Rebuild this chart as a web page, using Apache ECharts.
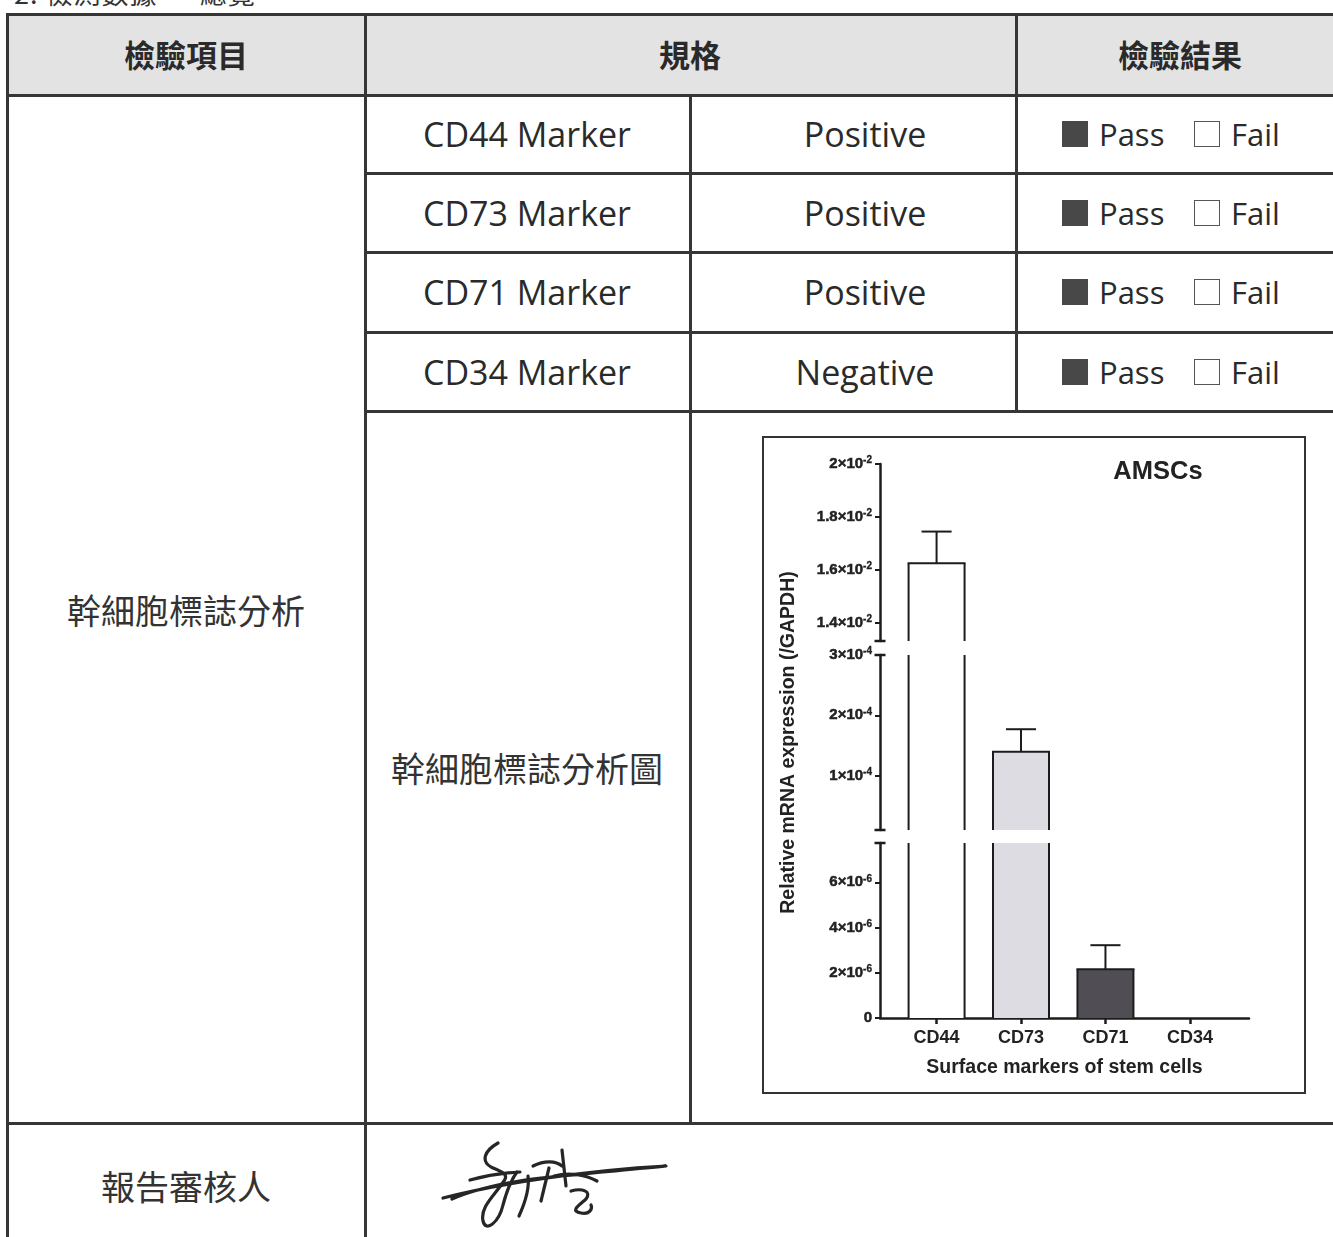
<!DOCTYPE html>
<html>
<head>
<meta charset="utf-8">
<script src="https://cdn.jsdelivr.net/npm/echarts@6/dist/echarts.min.js"></script>
<style>
html,body{margin:0;padding:0;background:#fff;}
body{width:1333px;height:1237px;position:relative;overflow:hidden;color:#2a2a2a;font-family:'Open Sans','Noto Sans CJK TC',sans-serif;}
.h{position:absolute;height:3px;background:#363636;}
.v{position:absolute;width:3px;background:#363636;}
.t{position:absolute;white-space:nowrap;transform:translate(-50%,-50%);line-height:1;}
.l{position:absolute;white-space:nowrap;transform:translate(0,-50%);line-height:1;}
.cjk{font-family:'Noto Sans CJK TC';font-size:34px;font-weight:400;color:#333;}
.hd{font-family:'Noto Sans CJK TC';font-size:31px;font-weight:700;color:#2a2a2a;}
.lat{font-family:'Open Sans';font-size:34px;color:#2a2a2a;}
.pf{font-family:'Open Sans';font-size:31px;color:#2a2a2a;}
.sq{position:absolute;width:26px;height:26px;box-sizing:border-box;}
#hdrbg{position:absolute;left:6px;top:13px;width:1327px;height:82px;background:#e3e3e3;}
#chart{position:absolute;left:762px;top:436px;width:544px;height:658px;}
#frame{position:absolute;left:762px;top:436px;width:544px;height:658px;border:2px solid #333;box-sizing:border-box;pointer-events:none;}
#sig{position:absolute;left:0;top:0;width:1333px;height:1237px;pointer-events:none;}
</style>
</head>
<body>
<div id="hdrbg"></div>
<div class="l cjk" style="left:14px;top:-8px;font-size:27px;letter-spacing:1px;">2. 檢測數據 一 總覽</div>
<div id="table"></div>
<div id="chart"></div>
<div id="frame"></div>
<svg id="sig" viewBox="0 0 1333 1237">
  <g fill="none" stroke="#262626" stroke-width="3.2" stroke-linecap="round" stroke-linejoin="round">
    <path d="M443 1198 C500 1183 590 1170 666 1166 C630 1170 570 1174 525 1180 C495 1185 470 1191 452 1199"/>
    <path d="M498 1143 C484 1151 481 1161 491 1167 C502 1172 509 1174 504 1181 C494 1196 480 1207 483 1221 C486 1233 499 1222 503 1205 C507 1190 511 1180 517 1172"/>
    <path d="M470 1180 C485 1176 500 1173 520 1172"/>
    <path d="M528 1176 C530 1190 524 1205 519 1216"/>
    <path d="M533 1166 C545 1160 556 1161 562 1166"/>
    <path d="M549 1168 L541 1201"/>
    <path d="M562 1150 L566 1186"/>
    <path d="M554 1176 C570 1172 586 1175 597 1181"/>
    <path d="M571 1191 C582 1188 592 1191 586 1199 C578 1206 570 1211 581 1213 C589 1215 593 1209 591 1205"/>
  </g>
</svg>
<script>
// ---------- table content ----------
const markerNames = ['CD44 Marker', 'CD73 Marker', 'CD71 Marker', 'CD34 Marker'];
const markerSpecs = ['Positive', 'Positive', 'Positive', 'Negative'];
const headerTexts = ['檢驗項目', '規格', '檢驗結果'];

// ---------- chart data ----------
const categories = ['CD44', 'CD73', 'CD71', 'CD34'];
const meanValues = [1.625e-2, 1.397e-4, 2.16e-6, 0];
const errorValues = [0.12e-2, 0.373e-4, 1.06e-6, 0];
const barColors = ['#ffffff', '#dcdce2', '#504e54', '#ffffff'];
// axis segments: bottom, middle, top
const segmentRanges = [[0, 7.74e-6], [1e-5, 3e-4], [1.332e-2, 2e-2]];
const yTickValues = [[0, 2e-6, 4e-6, 6e-6], [1e-4, 2e-4, 3e-4], [1.4e-2, 1.6e-2, 1.8e-2, 2e-2]];
const xTickValues = [0, 1, 2, 3];
const xRange = [-0.67, 3.70];

// ---------- build table ----------
(function () {
  const T = document.getElementById('table');
  function add(cls, style, text) {
    const d = document.createElement('div');
    d.className = cls; d.setAttribute('style', style);
    if (text !== undefined) d.textContent = text;
    T.appendChild(d);
  }
  add('h', 'left:6px;top:13px;width:1327px;');
  add('h', 'left:6px;top:94px;width:1327px;');
  [172, 251, 331, 410].forEach(y => add('h', 'left:364px;top:' + y + 'px;width:969px;'));
  add('h', 'left:6px;top:1122px;width:1327px;');
  add('v', 'left:6px;top:13px;height:1224px;');
  add('v', 'left:364px;top:13px;height:1224px;');
  add('v', 'left:689px;top:94px;height:1031px;');
  add('v', 'left:1015px;top:13px;height:400px;');
  add('t hd', 'left:186px;top:53px;', headerTexts[0]);
  add('t hd', 'left:690px;top:53px;', headerTexts[1]);
  add('t hd', 'left:1180px;top:53px;', headerTexts[2]);
  const rowCenters = [134, 213, 292, 372];
  markerNames.forEach((m, i) => {
    const c = rowCenters[i];
    add('t lat', 'left:527px;top:' + c + 'px;', m);
    add('t lat', 'left:865px;top:' + c + 'px;', markerSpecs[i]);
    add('sq', 'left:1062px;top:' + (c - 13) + 'px;background:#484848;');
    add('l pf', 'left:1099px;top:' + c + 'px;', 'Pass');
    add('sq', 'left:1194px;top:' + (c - 13) + 'px;border:1.5px solid #555;background:#fff;');
    add('l pf', 'left:1231px;top:' + c + 'px;', 'Fail');
  });
  add('t cjk', 'left:186px;top:610px;', '幹細胞標誌分析');
  add('t cjk', 'left:527px;top:768px;', '幹細胞標誌分析圖');
  add('t cjk', 'left:186px;top:1186px;', '報告審核人');
})();

// ---------- chart ----------
const AX = '#1c1c1c';
const FONT = 'Liberation Sans, Arial, sans-serif';
const barWidthUnits = 0.663;
const capHalfUnits = 0.178;

function sciLabel(v) {
  if (v === 0) return '{m|0}';
  const exp = Math.floor(Math.log10(v) + 1e-9);
  const mant = Math.round(v / Math.pow(10, exp) * 10) / 10;
  return '{m|' + mant + '×10}{e|-' + Math.abs(exp) + '}';
}
const labelRich = {
  m: { fontFamily: FONT, fontWeight: 'bold', fontSize: 15, color: '#222', lineHeight: 17, textBorderColor: '#222', textBorderWidth: 0.5 },
  e: { fontFamily: FONT, fontWeight: 'bold', fontSize: 10, color: '#222', lineHeight: 10, verticalAlign: 'top', textBorderColor: '#222', textBorderWidth: 0.3 }
};

const gridDefs = [
  { left: 118, width: 369, top: 407, height: 175 },
  { left: 118, width: 369, top: 219, height: 175 },
  { left: 118, width: 369, top: 28, height: 177 }
];

const seriesData = categories.map((c, i) => [i, meanValues[i], errorValues[i]]);

function barRender(seg) {
  return function (params, api) {
    const x = api.value(0), v = api.value(1);
    const lo = segmentRanges[seg][0], hi = segmentRanges[seg][1];
    if (!(v > lo)) return null;
    const top = Math.min(v, hi);
    const pb = api.coord([x, lo]);
    const pt = api.coord([x, top]);
    const w = api.size([barWidthUnits, 0])[0];
    const x0 = pb[0] - w / 2, x1 = pb[0] + w / 2;
    const ls = { stroke: AX, lineWidth: 2 };
    const ch = [
      { type: 'rect', shape: { x: x0, y: pt[1], width: w, height: pb[1] - pt[1] }, style: { fill: barColors[params.dataIndex] } },
      { type: 'line', shape: { x1: x0, y1: pb[1], x2: x0, y2: pt[1] }, style: ls },
      { type: 'line', shape: { x1: x1, y1: pb[1], x2: x1, y2: pt[1] }, style: ls }
    ];
    if (v < hi) ch.push({ type: 'line', shape: { x1: x0 - 1, y1: pt[1], x2: x1 + 1, y2: pt[1] }, style: ls });
    return { type: 'group', children: ch };
  };
}
function errRender(seg) {
  return function (params, api) {
    const x = api.value(0), v = api.value(1), e = api.value(2);
    const lo = segmentRanges[seg][0], hi = segmentRanges[seg][1];
    if (!(e > 0) || v < lo || v > hi) return null;
    const p1 = api.coord([x, v]);
    const p2 = api.coord([x, v + e]);
    const hw = api.size([capHalfUnits, 0])[0];
    const ls = { stroke: AX, lineWidth: 2 };
    return {
      type: 'group', children: [
        { type: 'line', shape: { x1: p1[0], y1: p1[1], x2: p2[0], y2: p2[1] }, style: ls },
        { type: 'line', shape: { x1: p2[0] - hw, y1: p2[1], x2: p2[0] + hw, y2: p2[1] }, style: ls }
      ]
    };
  };
}
const capSpec = [[false, true], [true, true], [true, false]];
function capRender(params, api) {
  const p = api.coord([api.value(0), api.value(1)]);
  return { type: 'line', shape: { x1: p[0] - 5.5, y1: p[1], x2: p[0] + 5.5, y2: p[1] }, style: { stroke: AX, lineWidth: 2.5 } };
}

const xAxes = gridDefs.map((g, i) => ({
  gridIndex: i, type: 'value', min: xRange[0], max: xRange[1], show: i === 0,
  splitLine: { show: false },
  axisLine: { show: true, onZero: false, lineStyle: { color: AX, width: 2.5 } },
  axisTick: { show: true, customValues: xTickValues, length: 6, lineStyle: { color: AX, width: 2.5 } },
  axisLabel: {
    customValues: xTickValues, margin: 11,
    formatter: v => categories[Math.round(v)],
    fontFamily: FONT, fontWeight: 'bold', fontSize: 18, color: '#222'
  },
  name: i === 0 ? 'Surface markers of stem cells' : '',
  nameLocation: 'middle', nameGap: 40,
  nameTextStyle: { fontFamily: FONT, fontWeight: 'bold', fontSize: 19.5, color: '#222' }
}));
const yAxes = gridDefs.map((g, i) => ({
  gridIndex: i, type: 'value', min: segmentRanges[i][0], max: segmentRanges[i][1],
  splitLine: { show: false },
  axisLine: { show: true, onZero: false, lineStyle: { color: AX, width: 2.5 } },
  axisTick: { show: true, customValues: yTickValues[i], length: 5, lineStyle: { color: AX, width: 2 } },
  axisLabel: { customValues: yTickValues[i], margin: 8, formatter: sciLabel, rich: labelRich },
  name: i === 1 ? 'Relative mRNA expression (/GAPDH)' : '',
  nameLocation: 'middle', nameGap: 81,
  nameTextStyle: { fontFamily: FONT, fontWeight: 'bold', fontSize: 19.5, color: '#222' }
}));

const series = [];
gridDefs.forEach((g, i) => {
  series.push({ type: 'custom', name: 'bars' + i, xAxisIndex: i, yAxisIndex: i, data: seriesData, encode: { x: 0, y: 1 }, renderItem: barRender(i), z: 2 });
  series.push({ type: 'custom', name: 'err' + i, xAxisIndex: i, yAxisIndex: i, data: seriesData, encode: { x: 0, y: 1 }, renderItem: errRender(i), z: 3 });
  const caps = [];
  if (capSpec[i][0]) caps.push([xRange[0], segmentRanges[i][0]]);
  if (capSpec[i][1]) caps.push([xRange[0], segmentRanges[i][1]]);
  series.push({ type: 'custom', name: 'cap' + i, xAxisIndex: i, yAxisIndex: i, data: caps, encode: { x: 0, y: 1 }, renderItem: capRender, z: 4, silent: true });
});

const chart = echarts.init(document.getElementById('chart'));
chart.setOption({
  animation: false,
  backgroundColor: '#fff',
  title: {
    text: 'AMSCs', left: 391, top: 18, textAlign: 'center',
    textStyle: { fontFamily: FONT, fontWeight: 'bold', fontSize: 25.5, color: '#222' }
  },
  grid: gridDefs,
  xAxis: xAxes,
  yAxis: yAxes,
  series: series
});
</script>
</body>
</html>
